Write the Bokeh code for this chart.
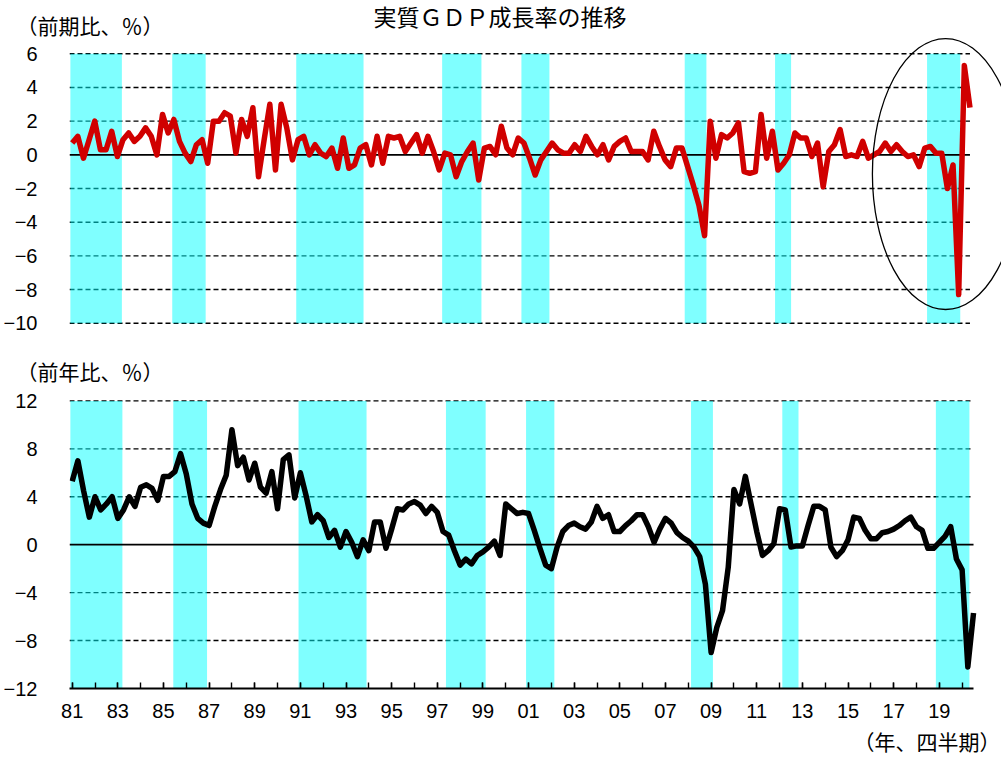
from bokeh.plotting import figure
from bokeh.layouts import column
from bokeh.models import FixedTicker, Range1d, Title
from bokeh.embed import file_html
from bokeh.resources import INLINE

# ---------------- data ----------------
START_YEAR = 1981  # first quarter of both series: 1981 Q1

# Real GDP growth, quarter on quarter (%), 1981Q1 - 2020Q4
qoq = [
    0.7, 1.1, -0.2, 0.9, 2.0, 0.3, 0.3, 1.4, -0.1, 0.9,
    1.3, 0.8, 1.1, 1.6, 1.1, 0.0, 2.4, 1.3, 2.1, 0.8,
    0.1, -0.4, 0.6, 0.9, -0.5, 2.0, 2.0, 2.5, 2.3, 0.1,
    2.1, 1.1, 2.8, -1.3, 0.9, 3.0, -0.9, 3.0, 1.6, -0.3,
    0.9, 1.1, 0.0, 0.6, 0.1, -0.1, 0.4, -0.8, 1.0, -0.8,
    -0.6, 0.4, 0.6, -0.6, 1.1, -0.5, 1.1, 1.0, 1.1, 0.2,
    0.7, 1.2, 0.1, 1.1, 0.2, -0.9, 0.1, 0.0, -1.3, -0.4,
    0.2, 0.7, -1.5, 0.4, 0.5, 0.0, 1.7, 0.4, 0.0, 1.0,
    0.7, -0.2, -1.2, -0.3, 0.2, 0.7, 0.3, 0.1, 0.1, 0.6,
    0.2, 1.1, 0.5, 0.0, 0.6, -0.3, 0.5, 0.8, 1.0, 0.2,
    0.2, 0.2, -0.3, 1.4, 0.5, -0.3, -0.7, 0.4, 0.4, -0.7,
    -1.8, -3.0, -4.8, 2.0, -0.2, 1.2, 1.0, 1.3, 1.9, -1.0,
    -1.1, -1.0, 2.4, -0.2, 1.4, -0.9, -0.5, 0.0, 1.3, 1.0,
    1.0, -0.1, 0.7, -1.9, 0.2, 0.6, 1.5, -0.1, 0.0, -0.1,
    0.8, -0.2, 0.0, 0.2, 0.7, 0.2, 0.6, 0.2, -0.1, 0.0,
    -0.7, 0.4, 0.5, 0.1, 0.1, -2.0, -0.6, -8.3, 5.3, 2.8,
]

# Real GDP growth, year on year (%), 1981Q1 - 2020Q3
yoy = [
    5.3, 7.0, 4.5, 2.3, 4.0, 2.9, 3.4, 4.0, 2.2, 2.9,
    4.0, 3.2, 4.8, 5.0, 4.7, 3.7, 5.7, 5.7, 6.1, 7.6,
    5.9, 3.4, 2.2, 1.8, 1.6, 3.2, 4.6, 5.8, 9.6, 6.6,
    7.3, 5.4, 6.8, 4.8, 4.3, 6.1, 3.0, 7.1, 7.5, 3.9,
    6.0, 4.1, 1.9, 2.5, 2.0, 0.6, 1.2, -0.2, 1.1, 0.2,
    -1.0, 0.4, -0.5, 1.9, 1.9, -0.3, 1.3, 3.0, 2.9, 3.4,
    3.6, 3.3, 2.6, 3.2, 2.7, 1.1, 0.8, -0.5, -1.7, -1.2,
    -1.6, -0.9, -0.6, -0.2, 0.3, -0.9, 3.4, 3.0, 2.6, 2.7,
    2.6, 1.2, -0.3, -1.7, -2.0, -0.2, 1.1, 1.6, 1.8, 1.5,
    1.3, 1.9, 3.2, 2.2, 2.5, 1.1, 1.1, 1.6, 2.0, 2.5,
    2.5, 1.5, 0.2, 1.3, 2.2, 1.8, 1.0, 0.6, 0.3, -0.2,
    -1.0, -3.3, -9.0, -6.9, -5.5, -1.9, 4.6, 3.4, 5.7, 3.4,
    1.1, -0.9, -0.5, 0.1, 3.0, 2.9, -0.2, -0.1, -0.1, 1.6,
    3.2, 3.2, 2.9, -0.2, -1.0, -0.5, 0.4, 2.3, 2.2, 1.2,
    0.5, 0.5, 1.0, 1.1, 1.3, 1.6, 2.0, 2.3, 1.5, 1.2,
    -0.3, -0.3, 0.2, 0.7, 1.5, -1.2, -2.1, -10.2, -5.7,
]

# Recession (business-cycle contraction) periods, in years
recession_start = [1980.92, 1985.43, 1990.92, 1997.38, 2000.89, 2008.12, 2012.12, 2018.85]
recession_end = [1983.20, 1986.91, 1993.90, 1999.12, 2002.13, 2009.08, 2012.83, 2020.32]

qoq_ticks = [-10, -8, -6, -4, -2, 0, 2, 4, 6]
yoy_ticks = [-12, -8, -4, 0, 4, 8, 12]
year_ticks = list(range(1981, 2021))
label_years = list(range(1981, 2021, 2))

title_text = "実質ＧＤＰ成長率の推移"
qoq_unit = "（前期比、％）"
yoy_unit = "（前年比、％）"
x_unit = "（年、四半期）"

# ---------------- derived ----------------
t_qoq = [START_YEAR + i / 4 for i in range(len(qoq))]
t_yoy = [START_YEAR + i / 4 for i in range(len(yoy))]

NUM_FONT = "Liberation Sans Narrow, Arial Narrow, Liberation Sans, sans-serif"
JP_FONT = "Noto Sans CJK JP"
RED = "#D00000"
CYAN = "#00FFFF"
LEFT = 68


def minus(v):
    return ("\u2212" + str(abs(v))) if v < 0 else str(v)


def style_yaxis(p, ticks):
    p.yaxis.ticker = FixedTicker(ticks=ticks)
    p.yaxis.axis_line_color = None
    p.yaxis.major_tick_line_color = None
    p.yaxis.minor_tick_line_color = None
    p.yaxis.major_label_standoff = 26
    p.yaxis.major_label_text_font = NUM_FONT
    p.yaxis.major_label_text_font_size = "20px"
    p.yaxis.major_label_text_color = "black"
    p.yaxis.major_label_overrides = {v: minus(v) for v in ticks}


def base_style(p):
    p.outline_line_color = None
    p.xgrid.grid_line_color = None
    p.ygrid.grid_line_color = None
    p.background_fill_color = "white"
    p.border_fill_color = "white"


def make_title(text, size, align, offset, standoff):
    kw = dict(text=text, align=align, offset=offset, text_font=JP_FONT,
              text_font_size=size, text_font_style="normal", text_color="black")
    try:
        return Title(standoff=standoff, **kw)
    except Exception:
        return Title(standoff=0, **kw)


# ---------------- top panel: quarter on quarter ----------------
TOP_BORDER = 37
x0_top = 1980.881
top = figure(width=1001, height=340,
             x_range=Range1d(x0_top, 2022.146), y_range=Range1d(-10.194, 6.968),
             output_backend="svg", toolbar_location=None, x_axis_location=None,
             min_border_left=LEFT, min_border_right=0, min_border_top=TOP_BORDER,
             min_border_bottom=14)
base_style(top)
style_yaxis(top, qoq_ticks)

grid_q = [v for v in qoq_ticks if v != 0]
top.segment(x0=x0_top, x1=t_qoq[-1], y0=grid_q, y1=grid_q,
            line_color="black", line_width=1.4, line_dash="5 3")
top.quad(left=recession_start, right=recession_end, bottom=min(qoq_ticks), top=max(qoq_ticks),
         fill_color=CYAN, fill_alpha=0.5, line_color=None)
top.segment(x0=[x0_top], x1=[t_qoq[-1]], y0=[0], y1=[0], line_color="black", line_width=1.8)
top.line(t_qoq, qoq, line_color=RED, line_width=5.5, line_join="round")
# highlight ring around the latest quarters
top.ellipse(x=[2019.67], y=[-1.14], width=[6.48], height=[16.09],
            fill_color=None, line_color="black", line_width=1.3)

# unit caption (closest to the frame), then the chart title on the same row
top.add_layout(make_title(qoq_unit, "21px", "left", 15 - LEFT, -4), "above")
top.add_layout(make_title(title_text, "23px", "left", 372 - LEFT, -46), "above")

# ---------------- bottom panel: year on year ----------------
x0_bot = 1980.882
bot = figure(width=1001, height=418,
             x_range=Range1d(x0_bot, 2021.726), y_range=Range1d(-12, 12.2),
             output_backend="svg", toolbar_location=None,
             min_border_left=LEFT, min_border_right=0, min_border_top=57, min_border_bottom=69)
base_style(bot)
style_yaxis(bot, yoy_ticks)

bot.xaxis.bounds = (x0_bot, t_yoy[-1])
bot.xaxis.ticker = FixedTicker(ticks=label_years, minor_ticks=year_ticks)
bot.xaxis.axis_line_color = "black"
bot.xaxis.axis_line_width = 2
bot.xaxis.major_tick_in = 6
bot.xaxis.major_tick_out = 0
bot.xaxis.minor_tick_in = 6
bot.xaxis.minor_tick_out = 0
bot.xaxis.major_tick_line_width = 1.4
bot.xaxis.minor_tick_line_width = 1.4
bot.xaxis.major_tick_line_color = "black"
bot.xaxis.minor_tick_line_color = "black"
bot.xaxis.major_label_standoff = 15
bot.xaxis.major_label_text_font = NUM_FONT
bot.xaxis.major_label_text_font_size = "20px"
bot.xaxis.major_label_text_color = "black"
bot.xaxis.major_label_overrides = {y: f"{y % 100:02d}" for y in label_years}

grid_y = [v for v in yoy_ticks if v not in (0, min(yoy_ticks))]
bot.segment(x0=x0_bot, x1=t_yoy[-1], y0=grid_y, y1=grid_y,
            line_color="black", line_width=1.4, line_dash="5 3")
bot.quad(left=recession_start, right=recession_end, bottom=min(yoy_ticks), top=max(yoy_ticks),
         fill_color=CYAN, fill_alpha=0.5, line_color=None)
bot.segment(x0=[x0_bot], x1=[t_yoy[-1]], y0=[0], y1=[0], line_color="black", line_width=1.8)
bot.line(t_yoy, yoy, line_color="black", line_width=5.5, line_join="round")

bot.add_layout(make_title(yoy_unit, "21px", "left", 15 - LEFT, 26), "above")
bot.add_layout(make_title(x_unit, "21px", "right", 1, 6), "below")

layout = column(top, bot, spacing=0)
open("out.html", "w").write(file_html(layout, INLINE))
